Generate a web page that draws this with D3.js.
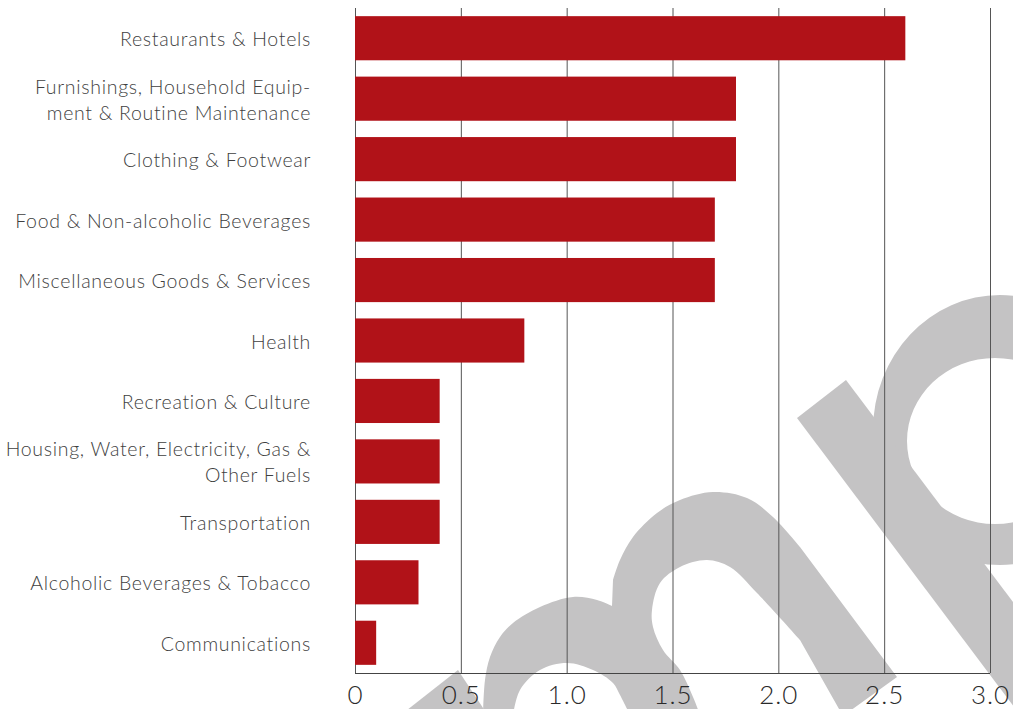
<!DOCTYPE html>
<html>
<head>
<meta charset="utf-8">
<script src="https://cdn.jsdelivr.net/npm/d3@7"></script>
<style>
  html, body { margin: 0; padding: 0; background: #ffffff; }
  svg { display: block; }
  .cat-label { font-family: "Lato", "Open Sans", sans-serif; font-weight: 300; font-size: 19.5px; letter-spacing: 0.7px; fill: #3f3f3f; }
  .tick-label { font-family: "Lato", "Open Sans", sans-serif; font-weight: 300; font-size: 26px; letter-spacing: 1px; fill: #2a2a2a; }
</style>
</head>
<body>
<svg id="chart" width="1013" height="709"></svg>
<script>
// Categories, top to bottom; "\n" marks a line break in the label
const categories = [
  "Restaurants & Hotels",
  "Furnishings, Household Equip-\nment & Routine Maintenance",
  "Clothing & Footwear",
  "Food & Non-alcoholic Beverages",
  "Miscellaneous Goods & Services",
  "Health",
  "Recreation & Culture",
  "Housing, Water, Electricity, Gas &\nOther Fuels",
  "Transportation",
  "Alcoholic Beverages & Tobacco",
  "Communications"
];

// Bar values
const values = [2.6, 1.8, 1.8, 1.7, 1.7, 0.8, 0.4, 0.4, 0.4, 0.3, 0.1];

// Axis ticks and their labels
const tickValues = [0, 0.5, 1.0, 1.5, 2.0, 2.5, 3.0];
const tickLabels = ["0", "0.5", "1.0", "1.5", "2.0", "2.5", "3.0"];

const svg = d3.select("#chart");

const plotLeft = 355, plotRight = 990, plotTop = 8, plotBottom = 673;

const x = d3.scaleLinear().domain([0, 3]).range([plotLeft, plotRight]);
const y = d3.scaleBand()
  .domain(categories)
  .range([plotTop, plotBottom])
  .paddingInner(0.27)
  .paddingOuter(0.135);

// ---- Background logo watermark ----
const logo = svg.append("g").attr("fill", "#c4c3c4");

const smooth = d3.line().curve(d3.curveCatmullRom.alpha(0.5));
function joinSegments(segs) {
  return segs.map((s, i) => {
    const p = s.length > 2 ? smooth(s) : "M" + s.map(q => q.join(",")).join("L");
    return i === 0 ? p : "L" + p.slice(1);
  }).join("") + "Z";
}

// "m"-shaped stroke with its long right leg
const mShape = [
  [[483,715],[485,680],[490,657],[500,637],[513,623],[540,607],[573,597],[597,600],[612,606]],
  [[613,580],[620,560],[633,537],[657,513],[680,500],[713,492],[747,498],[773,517],[800,547]],
  [[897,677],[843,716]],
  [[800,640],[757,593],[730,567],[707,560],[680,567],[660,583],[652,610],[653,627],[663,650],[680,670],[693,697],[700,715]],
  [[630,715],[620,695],[613,683],[593,670],[567,663],[540,670],[520,690],[513,715]]
];
logo.append("path").attr("d", joinSegments(mShape));

// small wedge at the lower left
logo.append("path").attr("d", "M458,670L402,714L487,714Z");

// ring
function ellipsePath(cx, cy, rx, ry) {
  return `M${cx - rx},${cy}a${rx},${ry} 0 1,0 ${2 * rx},0a${rx},${ry} 0 1,0 ${-2 * rx},0Z`;
}
logo.append("path")
  .attr("fill-rule", "evenodd")
  .attr("d", ellipsePath(1000, 430, 127, 135) + ellipsePath(995, 441, 88, 83));

// diagonal band through the ring
logo.append("path").attr("d", "M797,418L846,380L1147,780L1084,800Z");

// ---- Gridlines ----
const grid = svg.append("g")
  .attr("transform", `translate(0,${plotBottom})`)
  .call(d3.axisBottom(x).tickValues(tickValues).tickSize(-(plotBottom - plotTop)).tickFormat(""));
grid.select(".domain").remove();
grid.selectAll(".tick line").attr("stroke", "#555555").attr("stroke-width", 1);

// baseline
svg.append("line")
  .attr("x1", x(0)).attr("x2", x(3))
  .attr("y1", plotBottom + 0.5).attr("y2", plotBottom + 0.5)
  .attr("stroke", "#444444").attr("stroke-width", 1.2);

// ---- Bars ----
svg.append("g")
  .selectAll("rect")
  .data(categories)
  .join("rect")
  .attr("x", x(0))
  .attr("y", d => y(d))
  .attr("width", (d, i) => x(values[i]) - x(0))
  .attr("height", y.bandwidth())
  .attr("fill", "#b11218");

// ---- Category labels ----
const lineGap = 26;
const labels = svg.append("g")
  .selectAll("text")
  .data(categories)
  .join("text")
  .attr("class", "cat-label")
  .attr("text-anchor", "end")
  .attr("dominant-baseline", "central");

labels.each(function(d) {
  const lines = d.split("\n");
  const cy = y(d) + y.bandwidth() / 2;
  const t = d3.select(this);
  lines.forEach((ln, k) => {
    t.append("tspan")
      .attr("x", 311)
      .attr("y", cy + (k - (lines.length - 1) / 2) * lineGap)
      .text(ln);
  });
});

// ---- Tick labels ----
const xAxis = svg.append("g")
  .attr("transform", `translate(0,${plotBottom})`)
  .call(d3.axisBottom(x).tickValues(tickValues).tickSize(0)
    .tickFormat((d, i) => tickLabels[i]));
xAxis.select(".domain").remove();
xAxis.attr("font-family", null).attr("font-size", null);
xAxis.selectAll(".tick text")
  .attr("class", "tick-label")
  .attr("y", 21)
  .attr("dy", 0)
  .attr("dominant-baseline", "central");
</script>
</body>
</html>
